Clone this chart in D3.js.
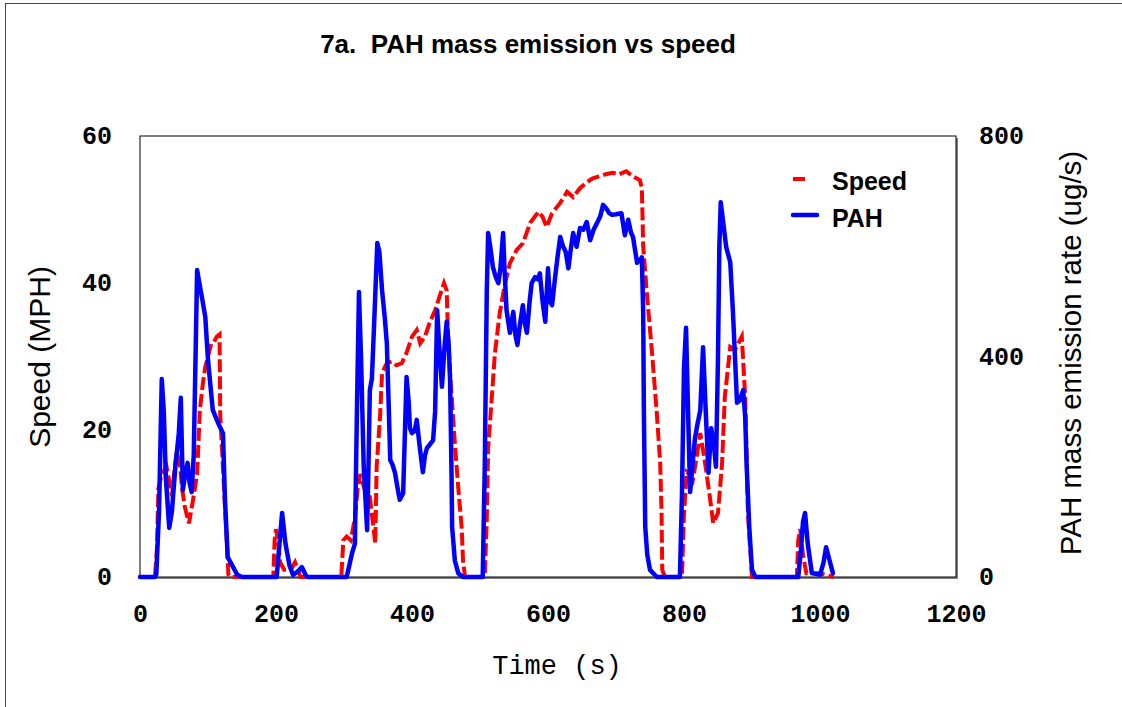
<!DOCTYPE html>
<html>
<head>
<meta charset="utf-8">
<script src="https://cdn.jsdelivr.net/npm/d3@7"></script>
<style>
  body { margin: 0; background: #fff; }
  svg { display: block; }
</style>
</head>
<body>
<div id="graph"></div>
<script>
// speed trace (mph)
var speedTime = [0, 22, 25, 27, 32, 39, 43, 47, 50, 54, 59, 62, 66, 72, 78, 84, 88, 92, 96, 100, 105, 109, 113, 117, 118, 122, 127, 130, 133,
	196, 198, 200, 203, 206, 212, 222, 228, 232, 236,
	296, 299, 304, 310, 316, 320, 324, 330, 338, 343, 346, 348, 353, 356, 363, 370, 377, 385, 392, 400, 407, 412, 419, 426, 434, 440, 447, 451, 453, 456, 463, 468, 473, 475, 478,
	507, 510, 512, 517, 522, 529, 537, 544, 554, 563, 574, 586, 592, 598, 606, 618, 628, 637, 647, 657, 665, 675, 685, 695, 705, 715, 725, 735, 738, 740, 745, 753, 760, 765, 767, 768, 772,
	797, 800, 804, 808, 813, 818, 824, 831, 838, 843, 850, 856, 860, 868, 875, 885, 890, 894, 900,
	966, 968, 971, 975, 980, 1000, 1020];
var speedMph = [0, 0, 4, 12, 14, 15, 13, 11, 14, 17, 15, 12, 9.5, 7.3, 10.5, 14, 22.7, 26, 28.6, 30, 31.8, 32, 32.7, 33, 22, 15, 6, 0.3, 0,
	0, 5, 6.5, 5, 2, 1, 1, 2, 1, 0,
	0, 5, 5.5, 5, 8, 12, 14, 12, 10.9, 7, 4.6, 15, 21.8, 27.8, 29.1, 29.3, 28.8, 29.1, 30.5, 32.7, 33.6, 31.8, 32.7, 34.6, 36.3, 38, 40, 39, 33, 27.8, 18.2, 12.2, 6.8, 2.3, 0,
	0, 8, 17.5, 24, 30.5, 35.9, 40, 42.7, 44.5, 45.4, 48.2, 49.7, 49, 47.6, 49.5, 50.9, 52.4, 51.7, 52.9, 53.7, 54.2, 54.5, 54.8, 55, 54.8, 55.2, 54.5, 54, 53, 45, 39, 30.5, 22.3, 15.5, 8.7, 1, 0,
	0, 8.7, 14.3, 14, 13.2, 16, 19.6, 15.5, 10.9, 7.3, 8.7, 15.5, 24.5, 31.3, 30.9, 32.7, 24.5, 8.7, 0,
	0, 5, 6.5, 3, 0.5, 0.5, 0];

// PAH trace (ug/s)
var pahTime = [0, 22, 24, 28, 32, 35, 38, 43, 47, 52, 57, 60, 63, 67, 70, 73, 76, 79, 82, 84, 87, 91, 96, 100, 107, 115, 122, 125, 129, 143, 150,
	201, 209, 214, 220, 225, 232, 238, 243, 246,
	304, 312, 316, 319, 322, 325, 329, 334, 336, 338, 341, 344, 349, 352, 356, 360, 363, 366, 368, 371, 375, 379, 382, 387, 390, 392, 395, 397, 400, 404, 407, 411, 416, 419, 422, 426, 431, 434, 437, 440, 444, 448, 451, 454, 456, 458, 459, 463, 468, 475,
	504, 507, 510, 512, 515, 519, 523, 527, 530, 534, 536, 539, 544, 549, 552, 555, 559, 563, 566, 569, 573, 576, 581, 585, 588, 592, 596, 600, 603, 606, 610, 614, 618, 622, 626, 630, 633, 637, 642, 647, 652, 657, 662, 667, 672, 677, 681, 686, 690, 694, 700, 708, 713, 718, 722, 725, 731, 735, 738, 740, 741, 743, 746, 750, 760,
	794, 797, 800, 803, 806, 809, 813, 816, 819, 824, 828, 832, 836, 840, 844, 847, 850, 852, 854, 858, 862, 868, 872, 878, 882, 887, 890, 892, 896, 900, 905,
	968, 972, 975, 978, 982, 988, 1000, 1005, 1009, 1013, 1019];
var pahRate = [0, 0, 5, 120, 359, 300, 180, 89, 120, 200, 260, 325, 158, 190, 207, 170, 154, 220, 420, 557, 535, 508, 472, 394, 303, 279, 261, 140, 36, 4, 0,
	0, 116, 60, 20, 4, 10, 18, 5, 0,
	0, 44, 60, 300, 517, 400, 200, 85, 200, 339, 360, 450, 606, 590, 520, 470, 424, 300, 212, 205, 189, 160, 140, 152, 280, 363, 320, 270, 261, 265, 285, 240, 190, 220, 234, 240, 248, 300, 484, 420, 345, 420, 463, 420, 357, 200, 91, 30, 7, 0,
	0, 200, 520, 624, 600, 562, 545, 533, 560, 624, 560, 484, 443, 481, 440, 421, 460, 493, 460, 443, 500, 533, 544, 540, 551, 500, 463, 560, 500, 493, 539, 580, 617, 600, 590, 560, 590, 624, 599, 633, 630, 644, 611, 630, 642, 655, 675, 668, 660, 657, 658, 660, 620, 648, 625, 617, 570, 575, 580, 479, 300, 91, 40, 13, 0,
	0, 150, 380, 452, 300, 154, 210, 250, 272, 303, 417, 300, 189, 270, 240, 200, 400, 600, 680, 640, 599, 571, 480, 316, 320, 339, 290, 207, 90, 13, 0,
	0, 50, 100, 116, 60, 7, 4, 25, 54, 35, 7];

var timeTicks = [0, 200, 400, 600, 800, 1000, 1200],
	speedTicks = [0, 20, 40, 60],
	pahTicks = [0, 400, 800];

var W = 1122, H = 707,
	plot = {left: 140, top: 136, right: 956, bottom: 577};

var svg = d3.select('#graph')
	.append('svg')
	.attr('width', W)
	.attr('height', H);

// outer frame (only top and left edges show)
svg.append('rect')
	.attr('x', 5.5).attr('y', 3.5)
	.attr('width', 1300).attr('height', 900)
	.attr('fill', 'none')
	.attr('stroke', '#444');

var x = d3.scaleLinear().domain([0, 1200]).range([plot.left, plot.right]),
	ySpeed = d3.scaleLinear().domain([0, 60]).range([plot.bottom, plot.top]),
	yPah = d3.scaleLinear().domain([0, 800]).range([plot.bottom, plot.top]);

// plot box with shadow
svg.append('rect')
	.attr('x', plot.left + 2).attr('y', plot.top + 2)
	.attr('width', plot.right - plot.left).attr('height', plot.bottom - plot.top)
	.attr('fill', '#808080');
svg.append('rect')
	.attr('x', plot.left).attr('y', plot.top)
	.attr('width', plot.right - plot.left).attr('height', plot.bottom - plot.top)
	.attr('fill', '#fff')
	.attr('stroke', '#000')
	.attr('stroke-width', 1);

var speedData = speedTime.map(function(t, i){ return {t: t, v: speedMph[i]}; }),
	pahData = pahTime.map(function(t, i){ return {t: t, v: pahRate[i]}; });

var speedLine = d3.line()
	.x(function(d){ return x(d.t); })
	.y(function(d){ return ySpeed(d.v); });
var pahLine = d3.line()
	.x(function(d){ return x(d.t); })
	.y(function(d){ return yPah(d.v); });

svg.append('path')
	.datum(speedData)
	.attr('d', speedLine)
	.attr('fill', 'none')
	.attr('stroke', '#ff0000')
	.attr('stroke-width', 4)
	.attr('stroke-dasharray', '13,4');

svg.append('path')
	.datum(pahData)
	.attr('d', pahLine)
	.attr('fill', 'none')
	.attr('stroke', '#0000ff')
	.attr('stroke-width', 4.5)
	.attr('stroke-linejoin', 'round')
	.attr('stroke-linecap', 'round');

// axes: labels only, no tick marks
var monoFont = '"Courier New", "Liberation Mono", monospace',
	fmt = d3.format('d');

function tickStyle(sel){
	sel.style('font-family', monoFont)
		.style('font-weight', 'bold')
		.style('font-size', '25px')
		.attr('fill', '#000');
}

svg.append('g')
	.attr('transform', 'translate(0,' + (plot.bottom + 36) + ')')
	.call(d3.axisBottom(x).tickValues(timeTicks).tickFormat(fmt).tickSize(0).tickPadding(0))
	.call(function(g){ g.select('.domain').remove(); })
	.selectAll('text')
	.attr('dy', '0.35em')
	.call(tickStyle);

svg.append('g')
	.attr('transform', 'translate(' + (plot.left - 28) + ',0)')
	.call(d3.axisLeft(ySpeed).tickValues(speedTicks).tickFormat(fmt).tickSize(0).tickPadding(0))
	.call(function(g){ g.select('.domain').remove(); })
	.selectAll('text')
	.attr('dy', '0.3em')
	.call(tickStyle);

svg.append('g')
	.attr('transform', 'translate(' + (plot.right + 23) + ',0)')
	.call(d3.axisRight(yPah).tickValues(pahTicks).tickFormat(fmt).tickSize(0).tickPadding(0))
	.call(function(g){ g.select('.domain').remove(); })
	.selectAll('text')
	.attr('dy', '0.3em')
	.call(tickStyle);

// titles
svg.append('text')
	.attr('x', 528).attr('y', 53)
	.attr('text-anchor', 'middle')
	.style('font-family', 'Arial, "Liberation Sans", sans-serif')
	.style('font-weight', 'bold')
	.style('font-size', '26px')
	.style('white-space', 'pre')
	.text('7a.  PAH mass emission vs speed');

svg.append('text')
	.attr('x', 557).attr('y', 674)
	.attr('text-anchor', 'middle')
	.style('font-family', monoFont)
	.style('font-size', '27px')
	.style('white-space', 'pre')
	.text('Time (s)');

svg.append('text')
	.attr('transform', 'translate(50,357) rotate(-90)')
	.attr('text-anchor', 'middle')
	.style('font-family', 'Arial, "Liberation Sans", sans-serif')
	.style('font-size', '30px')
	.text('Speed (MPH)');

svg.append('text')
	.attr('transform', 'translate(1081,353) rotate(-90)')
	.attr('text-anchor', 'middle')
	.style('font-family', 'Arial, "Liberation Sans", sans-serif')
	.style('font-size', '29.5px')
	.text('PAH mass emission rate (ug/s)');

// legend
var legend = svg.append('g').attr('class', 'legend');
legend.append('line')
	.attr('x1', 793).attr('x2', 805).attr('y1', 179).attr('y2', 179)
	.attr('stroke', '#ff0000').attr('stroke-width', 4);
legend.append('line')
	.attr('x1', 793).attr('x2', 817).attr('y1', 215).attr('y2', 215)
	.attr('stroke', '#0000ff').attr('stroke-width', 4.5)
	.attr('stroke-linecap', 'round');
legend.selectAll('text')
	.data(['Speed', 'PAH']).enter()
	.append('text')
	.attr('x', 832)
	.attr('y', function(d, i){ return 190 + i * 37; })
	.style('font-family', 'Arial, "Liberation Sans", sans-serif')
	.style('font-weight', 'bold')
	.style('font-size', '25px')
	.text(function(d){ return d; });
</script>
</body>
</html>
